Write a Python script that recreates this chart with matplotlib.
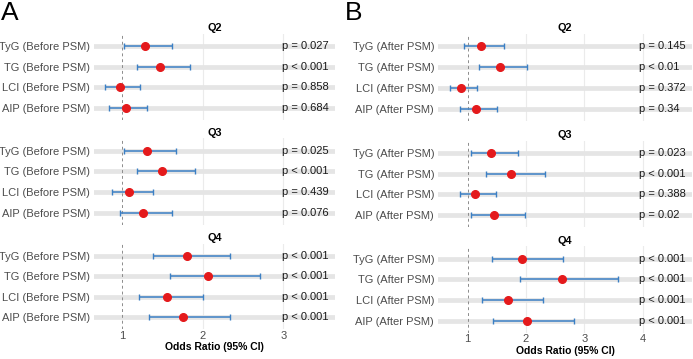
import matplotlib
matplotlib.use("Agg")
from matplotlib import pyplot as plt

# Data
quartiles = ["Q2", "Q3", "Q4"]
indices = ["TyG", "TG", "LCI", "AIP"]

# Before PSM (panel A)
or_before = [[1.29, 1.47, 0.98, 1.05],
             [1.31, 1.50, 1.09, 1.26],
             [1.81, 2.07, 1.56, 1.76]]
lo_before = [[1.03, 1.18, 0.79, 0.84],
             [1.03, 1.18, 0.87, 0.975],
             [1.39, 1.60, 1.21, 1.33]]
hi_before = [[1.62, 1.84, 1.22, 1.31],
             [1.67, 1.90, 1.38, 1.62],
             [2.34, 2.71, 2.00, 2.34]]
p_before = [["p = 0.027", "p < 0.001", "p = 0.858", "p = 0.684"],
            ["p = 0.025", "p < 0.001", "p = 0.439", "p = 0.076"],
            ["p < 0.001", "p < 0.001", "p < 0.001", "p < 0.001"]]

# After PSM (panel B)
or_after = [[1.23, 1.55, 0.89, 1.14],
            [1.40, 1.74, 1.13, 1.45],
            [1.93, 2.61, 1.69, 2.01]]
lo_after = [[0.94, 1.19, 0.69, 0.87],
            [1.05, 1.31, 0.86, 1.06],
            [1.41, 1.90, 1.25, 1.43]]
hi_after = [[1.63, 2.02, 1.16, 1.50],
            [1.87, 2.33, 1.48, 1.98],
            [2.63, 3.58, 2.29, 2.82]]
p_after = [["p = 0.145", "p < 0.01", "p = 0.372", "p = 0.34"],
           ["p = 0.023", "p < 0.001", "p = 0.388", "p = 0.02"],
           ["p < 0.001", "p < 0.001", "p < 0.001", "p < 0.001"]]

plt.rcParams["font.family"] = ["Liberation Sans", "DejaVu Sans"]
plt.rcParams["font.size"] = 8

W, H = 693, 359
fig = plt.figure(figsize=(W / 100, H / 100), dpi=100)


def px_axes(x0, x1, y0, y1):
    return fig.add_axes([x0 / W, 1 - y1 / H, (x1 - x0) / W, (y1 - y0) / H])


def draw_panel(x0, x1, spans, xlim, xticks, suffix, ors, los, his, ps):
    text_x = max(max(h) for h in his) * 1.1
    for k, (y0, y1) in enumerate(spans):
        ax = px_axes(x0, x1, y0, y1)
        ypos = list(range(len(indices)))
        for t in xticks[1:]:
            ax.axvline(t, color="#ebebeb", lw=0.8, zorder=0)
        for y in ypos:
            ax.axhline(y, color="#e5e5e5", lw=3.4, zorder=1)
        ax.axvline(1, color="#8c8c8c", lw=0.7, ls=(0, (3, 3)), zorder=2)
        xerr = [[o - l for o, l in zip(ors[k], los[k])],
                [h - o for o, h in zip(ors[k], his[k])]]
        ax.errorbar(ors[k], ypos, xerr=xerr, fmt="none", ecolor="#3b7fc4",
                    elinewidth=1.1, capsize=2.2, capthick=1.0, zorder=3)
        ax.plot(ors[k], ypos, "o", color="#e41a1c", ms=5.5, mec="#e41a1c", zorder=4)
        for y, p in zip(ypos, ps[k]):
            ax.text(text_x, y, p, ha="left", va="center", color="#1a1a1a", fontsize=8)
        ax.set_xlim(*xlim)
        ax.set_ylim(3.6, -0.6)
        ax.set_yticks(ypos)
        ax.set_yticklabels([f"{n} ({suffix})" for n in indices], color="#4d4d4d")
        ax.set_xticks(xticks)
        ax.tick_params(axis="y", length=0, pad=3)
        ax.tick_params(axis="x", length=0, pad=1)
        for s in ax.spines.values():
            s.set_visible(False)
        ax.set_title(quartiles[k], fontsize=7.8, fontweight="bold", pad=2)
        if k < len(spans) - 1:
            ax.set_xticklabels([])
        else:
            ax.set_xticklabels([str(t) for t in xticks], color="#4d4d4d")
            ax.set_xlabel("Odds Ratio (95% CI)", fontsize=7.5, fontweight="bold", labelpad=1)


draw_panel(94, 335, [(33.6, 120.4), (138.3, 225), (243.6, 329.4)],
           (0.653, 3.64), [1, 2, 3], "Before PSM",
           or_before, lo_before, hi_before, p_before)
draw_panel(438.3, 691.7, [(33.6, 121.4), (141, 227), (246.3, 333)],
           (0.496, 4.84), [1, 2, 3, 4], "After PSM",
           or_after, lo_after, hi_after, p_after)

fig.text(1 / W, 1 - 1 / H, "A", fontsize=19, va="top", ha="left")
fig.text(345 / W, 1 - 1 / H, "B", fontsize=19, va="top", ha="left")

fig.savefig("out.png", dpi=100)
